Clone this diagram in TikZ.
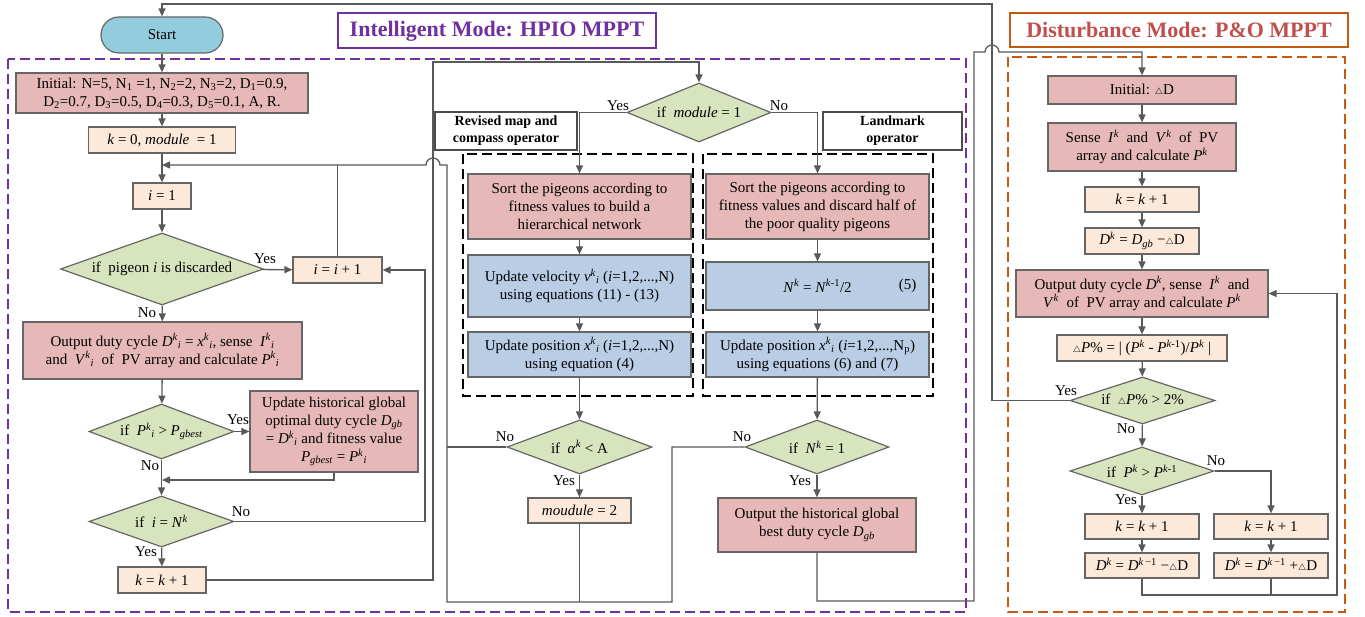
\documentclass[tikz,border=0pt]{standalone}
\usepackage{fontspec}
\setmainfont{Liberation Serif}
\usetikzlibrary{arrows.meta, shapes.geometric}
\definecolor{pinkfill}{HTML}{E6B9B8}
\definecolor{peachfill}{HTML}{FDE9D9}
\definecolor{bluefill}{HTML}{B9CDE5}
\definecolor{greenfill}{HTML}{D7E4BD}
\definecolor{startfill}{HTML}{93CDDD}
\definecolor{hpio}{HTML}{7030A0}
\definecolor{pobox}{HTML}{C55A11}
\definecolor{potext}{HTML}{C0504D}
\definecolor{linegray}{HTML}{595959}
\definecolor{edgegray}{HTML}{666666}
\newcommand{\itx}[1]{\textit{#1}}
\newcommand{\supk}{\textsuperscript{\textit{k}}}
\newcommand{\supki}{\textsuperscript{\textit{k}}\textsubscript{\textit{i}}}
\newcommand{\supkm}{\textsuperscript{\textit{k}-1}}
\newcommand{\sbgb}{\textsubscript{\textit{gb}}}
\newcommand{\sbgbest}{\textsubscript{\textit{gbest}}}
\newcommand{\dlt}{{\fontsize{9}{9}\selectfont$\triangle$}}

\begin{document}
\begin{tikzpicture}[x=1pt, y=-1pt,
  dims/.style 2 args={minimum width=#1pt, minimum height=#2pt},
  flowbox/.style={draw=edgegray, line width=1.2pt, align=center, inner sep=0pt, font=\fontsize{15}{18}\selectfont},
  pinkbox/.style={flowbox, fill=pinkfill},
  peachbox/.style={flowbox, fill=peachfill},
  bluebox/.style={flowbox, fill=bluefill},
  decide/.style={flowbox, diamond, fill=greenfill, shape aspect=3},
  startbox/.style={flowbox, fill=startfill, rounded corners=18pt},
  opbox/.style={draw=black!70, line width=1.2pt, fill=white, align=center, inner sep=0pt, font=\fontsize{14}{17}\selectfont\bfseries},
  title/.style={fill=white, line width=2pt, inner sep=0pt, font=\fontsize{22}{26}\selectfont\bfseries},
  lab/.style={inner sep=0pt, font=\fontsize{15}{18}\selectfont},
  conn/.style={draw=linegray, line width=1.3pt},
  arr/.style={conn, -{Triangle[length=8pt,width=7pt]}},
  zone/.style={line width=2.6pt, dash pattern=on 10pt off 5pt}]
\useasboundingbox (0,0) rectangle (1365,617);

\draw[zone, draw=hpio] (8,59) rectangle (966,612);
\draw[zone, draw=pobox] (1008,57) rectangle (1345,612);
\draw[zone, draw=black] (463,154) rectangle (693,396);
\draw[zone, draw=black] (703,154) rectangle (933,396);

\node[title, draw=hpio, text=hpio, dims={318}{35}] (hpiotitle) at (497,31) {Intelligent Mode: HPIO MPPT};
\node[title, draw=pobox, text=potext, dims={338}{34}] (potitle) at (1179,30) {Disturbance Mode: P\&O MPPT};

\node[startbox, dims={122}{36}] (start) at (162,35) {Start};
\node[pinkbox, dims={292}{40}] (init) at (162,93) {Initial: N=5, N\textsubscript{1} =1, N\textsubscript{2}=2, N\textsubscript{3}=2, D\textsubscript{1}=0.9,\\ D\textsubscript{2}=0.7, D\textsubscript{3}=0.5, D\textsubscript{4}=0.3, D\textsubscript{5}=0.1, A, R.};
\node[peachbox, dims={147}{26}] (kzero) at (162,140) {\itx{k} = 0, \itx{module}\ \ = 1};
\node[peachbox, dims={58}{26}] (ione) at (162,196) {\itx{i} = 1};
\node[decide, dims={203}{72}] (discard) at (162,269) {if\ \ pigeon \itx{i} is discarded};
\node[peachbox, dims={89}{26}] (inext) at (337.5,270) {\itx{i} = \itx{i} + 1};
\node[pinkbox, dims={279}{57}] (sense) at (162.5,350.5) {Output duty cycle \itx{D}\supki{} = \itx{x}\supki{}, sense\ \ \itx{I}\supki\\ and\ \ \itx{V}\supki\ \ of\ \ PV array and calculate \itx{P}\supki};
\node[decide, dims={145}{55}] (better) at (161.5,431.5) {if\ \ \itx{P}\supki{} > \itx{P}\sbgbest};
\node[pinkbox, dims={168}{81}] (update) at (334,431.5) {Update historical global\\ optimal duty cycle \itx{D}\sbgb\\ = \itx{D}\supki{} and fitness value\\ \itx{P}\sbgbest{} = \itx{P}\supki};
\node[decide, dims={145}{51}] (lastone) at (161.5,521.5) {if\ \ \itx{i} = \itx{N}\supk};
\node[peachbox, dims={88}{26}] (knext) at (162,580) {\itx{k} = \itx{k} + 1};
\coordinate (loopin) at (162,165);
\coordinate (betterin) at (162,480);

\node[decide, dims={144}{59}] (which) at (699,112.5) {if\ \ \itx{module} = 1};
\node[opbox, dims={142}{38}] (mapop) at (506,131) {Revised map and\\ compass operator};
\node[opbox, dims={139}{38}] (landop) at (892.5,131) {Landmark\\ operator};
\node[pinkbox, dims={223}{65}] (sortmap) at (579.5,206.5) {Sort the pigeons according to\\ fitness values to build a\\ hierarchical network};
\node[bluebox, dims={223}{62}] (velocity) at (579.5,286) {Update velocity \itx{v}\supki{} (\itx{i}=1,2,...,N)\\ using equations (11) - (13)};
\node[bluebox, dims={223}{45}] (posmap) at (579.5,354.5) {Update position \itx{x}\supki{} (\itx{i}=1,2,...,N)\\ using equation (4)};
\node[decide, dims={145}{54}] (alpha) at (579.5,447) {if\ \ \itx{α}\supk{} < A};
\node[peachbox, dims={103}{25}] (modtwo) at (579.5,510.5) {\itx{moudule} = 2};
\node[pinkbox, dims={223}{65}] (sortland) at (817.5,206.5) {Sort the pigeons according to\\ fitness values and discard half of\\ the poor quality pigeons};
\node[bluebox, dims={223}{48}, label={[lab, label distance=-31pt]east:(5)}] (halve) at (817.5,286) {\itx{N}\supk{} = \itx{N}\supkm/2};
\node[bluebox, dims={223}{45}] (posland) at (817.5,354.5) {Update position \itx{x}\supki{} (\itx{i}=1,2,...,N\textsubscript{p})\\ using equations (6) and (7)};
\node[decide, dims={144}{54}] (single) at (817,447) {if\ \ \itx{N}\supk{} = 1};
\node[pinkbox, dims={198}{54}] (best) at (817,525) {Output the historical global\\ best duty cycle \itx{D}\sbgb};

\node[pinkbox, dims={188}{28}] (initd) at (1142,90) {Initial: \dlt D};
\node[pinkbox, dims={188}{48}] (measure) at (1142,147) {Sense\ \ \itx{I}\supk\ \ and\ \ \itx{V}\supk\ \ of\ \ PV\\ array and calculate \itx{P}\supk};
\node[peachbox, dims={114}{25}] (kstep) at (1142,199.5) {\itx{k} = \itx{k} + 1};
\node[peachbox, dims={114}{26}] (dstart) at (1142,241) {\itx{D}\supk{} = \itx{D}\sbgb{} −\dlt D};
\node[pinkbox, dims={252}{47}] (track) at (1142,293.5) {Output duty cycle \itx{D}\supk{}, sense\ \ \itx{I}\supk\ \ and\\ \itx{V}\supk\ \ of\ \ PV array and calculate \itx{P}\supk};
\node[peachbox, dims={170}{26}] (dpct) at (1142,348) {\dlt\itx{P}\% = | (\itx{P}\supk{} - \itx{P}\supkm)/\itx{P}\supk{} |};
\node[decide, dims={145}{47}] (jump) at (1142.5,400.5) {if\ \ \dlt\itx{P}\% > 2\%};
\node[decide, dims={144}{48}] (rise) at (1142,471) {if\ \ \itx{P}\supk{} > \itx{P}\supkm};
\node[peachbox, dims={114}{25}] (kyes) at (1142,526.5) {\itx{k} = \itx{k} + 1};
\node[peachbox, dims={114}{25}] (kno) at (1271,526.5) {\itx{k} = \itx{k} + 1};
\node[peachbox, dims={114}{25}] (dminus) at (1142,565.5) {\itx{D}\supk{} = \itx{D}\textsuperscript{\itx{k}\,−1} −\dlt D};
\node[peachbox, dims={114}{25}] (dplus) at (1271,565.5) {\itx{D}\supk{} = \itx{D}\textsuperscript{\itx{k}\,−1} +\dlt D};

\node[lab] (yesdiscard) at (265,259) {Yes};
\node[lab] (nodiscard) at (147,313) {No};
\node[lab] (yesbetter) at (238,420) {Yes};
\node[lab] (nobetter) at (150,466) {No};
\node[lab] (nolast) at (241,512) {No};
\node[lab] (yeslast) at (146,552) {Yes};
\node[lab] (yeswhich) at (618,106) {Yes};
\node[lab] (nowhich) at (779,106) {No};
\node[lab] (noalpha) at (505,437) {No};
\node[lab] (yesalpha) at (564,481) {Yes};
\node[lab] (nosingle) at (742,437) {No};
\node[lab] (yessingle) at (800,481) {Yes};
\node[lab] (yesjump) at (1066,391) {Yes};
\node[lab] (nojump) at (1126,429) {No};
\node[lab] (norise) at (1216,461) {No};
\node[lab] (yesrise) at (1126,500) {Yes};

\draw[arr] (start) -- (init);
\draw[arr] (init) -- (kzero);
\draw[arr] (kzero) -- (ione);
\draw[arr] (ione) -- (discard);
\draw[arr] (discard) -- (inext);
\draw[arr] (discard) -- (sense);
\draw[arr] (sense) -- (better);
\draw[arr] (better) -- (update);
\draw[arr] (better) -- (lastone);
\draw[arr] (update.south) |- (betterin);
\draw[arr] (lastone.east) -- (425,521.5) |- (inext.east);
\draw[arr] (lastone) -- (knext);
\draw[conn] (inext.north) -- (inext.north |- loopin);
\draw[arr] (knext.east) -- (433,580) -- (433,62) -| (which.north);

\draw[arr] (which.west) -| (sortmap.north);
\draw[arr] (which.east) -| (sortland.north);
\draw[arr] (sortmap) -- (velocity);
\draw[arr] (velocity) -- (posmap);
\draw[arr] (posmap) -- (alpha);
\draw[arr] (alpha) -- (modtwo);
\draw[arr] (sortland) -- (halve);
\draw[arr] (halve) -- (posland);
\draw[arr] (posland) -- (single);
\draw[arr] (single) -- (best);
\draw[conn] (alpha.west) -- (447,447);
\draw[conn] (modtwo.south) -- (579.5,602);
\draw[arr] (single.west) -- (672,447) -- (672,602) -- (447,602) -- (447,165) -- (440,165) arc[start angle=0, end angle=-180, radius=7] -- (loopin);
\draw[arr] (best.south) -- (817,601) -- (974,601) -- (974,52) -- (985,52) arc[start angle=180, end angle=360, radius=7] -| (initd.north);

\draw[arr] (initd) -- (measure);
\draw[arr] (measure) -- (kstep);
\draw[arr] (kstep) -- (dstart);
\draw[arr] (dstart) -- (track);
\draw[arr] (track) -- (dpct);
\draw[arr] (dpct) -- (jump);
\draw[arr] (jump) -- (rise);
\draw[arr] (jump.west) -- (992,400.5) -- (992,4) -| (start.north);
\draw[arr] (rise) -- (kyes);
\draw[arr] (rise.east) -| (kno.north);
\draw[arr] (kyes) -- (dminus);
\draw[arr] (kno) -- (dplus);
\draw[arr] (dminus.south) -- (1142,595) -| (1337,293.5) -- (track.east);
\draw[conn] (dplus.south) -- (1271,595);
\end{tikzpicture}
\end{document}
